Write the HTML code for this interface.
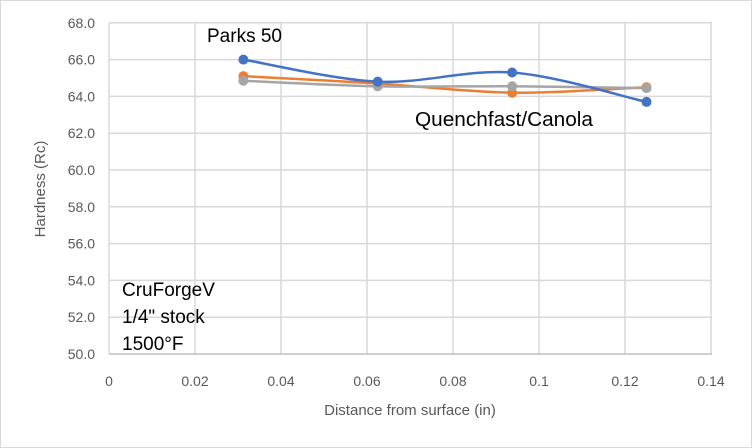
<!DOCTYPE html>
<html><head><meta charset="utf-8"><style>
body{margin:0;background:#fff}
svg{display:block;font-family:"Liberation Sans",sans-serif}
</style></head><body>
<svg id="chart" width="752" height="448" viewBox="0 0 752 448">
<rect x="0.5" y="0.5" width="751" height="447" fill="#fff" stroke="#d9d9d9"/>
<g id="grid"></g><g id="axes"></g><g id="series"></g>
<text x="207" y="42" font-size="19" fill="#000">Parks 50</text>
<text x="415" y="126" font-size="20" textLength="178" lengthAdjust="spacingAndGlyphs" fill="#000">Quenchfast/Canola</text>
<g font-size="19" fill="#000">
<text x="122" y="296">CruForgeV</text>
<text x="122" y="323">1/4" stock</text>
<text x="122" y="350">1500°F</text>
</g>
<text x="410" y="415" font-size="15" fill="#595959" text-anchor="middle">Distance from surface (in)</text>
<text transform="translate(45,189) rotate(-90)" font-size="15" fill="#595959" text-anchor="middle">Hardness (Rc)</text>
</svg>
<script>
const xVals=[0.03125,0.0625,0.09375,0.125];
const parks50=[66.0,64.8,65.3,63.7];
const canola=[65.1,64.7,64.2,64.5];
const quenchfast=[64.85,64.55,64.55,64.45];
const xTicks=[0,0.02,0.04,0.06,0.08,0.1,0.12,0.14];
const yTicks=[50,52,54,56,58,60,62,64,66,68];
const NS="http://www.w3.org/2000/svg";
const X=v=>109+v/0.14*602, Y=v=>354-(v-50)*18.4;
function mk(tag,at,parent){const e=document.createElementNS(NS,tag);for(const k in at)e.setAttribute(k,at[k]);parent.appendChild(e);return e;}
const grid=document.getElementById('grid'),axes=document.getElementById('axes'),ser=document.getElementById('series');
xTicks.forEach(t=>{
 const l=mk('line',{x1:X(t),x2:X(t),y1:23,y2:354,stroke:'#d9d9d9','stroke-width':1.5},grid);
 
 
 const tx=mk('text',{x:X(t),y:386,'font-size':14,fill:'#595959','text-anchor':'middle'},axes);
 tx.textContent=String(t);
 
 
});
yTicks.forEach(t=>{
 const l=mk('line',{x1:109,x2:712,y1:Y(t),y2:Y(t),stroke:t===50?'#bfbfbf':'#d9d9d9','stroke-width':1.5},grid);
 
 
 const tx=mk('text',{x:95,y:Y(t)+5,'font-size':14,fill:'#595959','text-anchor':'end'},axes);
 tx.textContent=t.toFixed(1);
 
 
});
function smooth(pts){
 let d=`M${pts[0][0]},${pts[0][1]}`;
 for(let i=0;i<pts.length-1;i++){
  const p0=pts[Math.max(0,i-1)],p1=pts[i],p2=pts[i+1],p3=pts[Math.min(pts.length-1,i+2)];
  const c1=[p1[0]+(p2[0]-p0[0])/6,p1[1]+(p2[1]-p0[1])/6];
  const c2=[p2[0]-(p3[0]-p1[0])/6,p2[1]-(p3[1]-p1[1])/6];
  d+=` C${c1[0]},${c1[1]} ${c2[0]},${c2[1]} ${p2[0]},${p2[1]}`;
 }
 return d;
}
[[canola,'#ed7d31','canola-series'],[quenchfast,'#a5a5a5','quenchfast-series'],[parks50,'#4472c4','parks-50-series']].forEach(([vals,col,name])=>{
 const g=mk('g',{},ser);
 
 
 const pts=vals.map((v,i)=>[X(xVals[i]),Y(v)]);
 const p=mk('path',{d:smooth(pts),fill:'none',stroke:col,'stroke-width':2.5},g);
 
 
 pts.forEach(q=>{
  const c=mk('circle',{cx:q[0],cy:q[1],r:5,fill:col},g);
  
  
 });
});
</script>
</body></html>
